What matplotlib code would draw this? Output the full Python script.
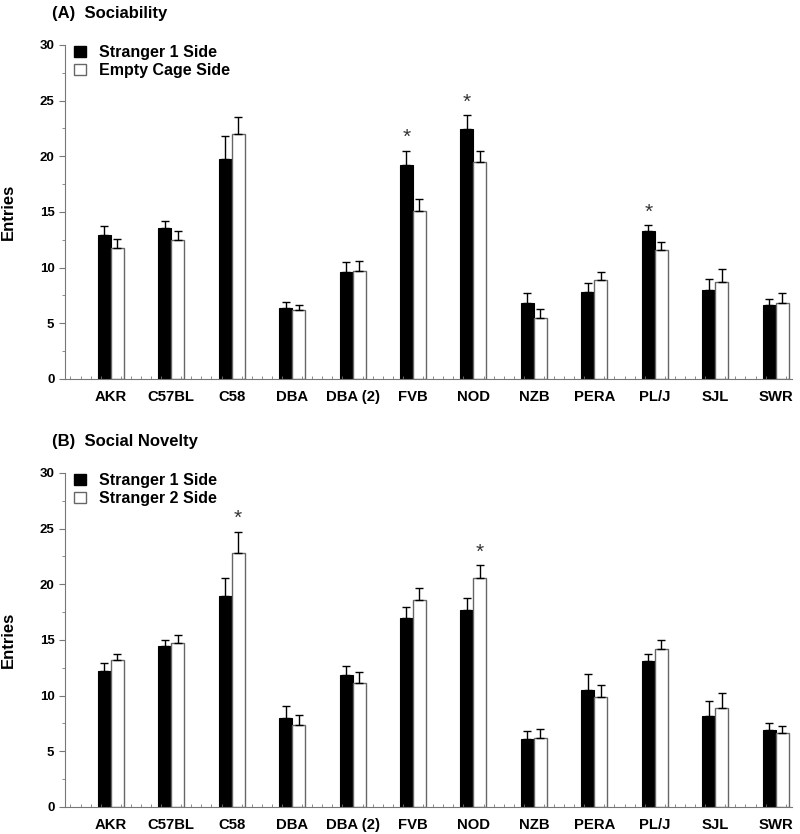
import numpy as np
import matplotlib
matplotlib.use('Agg')
import matplotlib.pyplot as plt
from matplotlib.patches import Patch
from matplotlib.ticker import MultipleLocator

plt.rcParams['font.family'] = ['Liberation Sans', 'DejaVu Sans']
plt.rcParams['font.weight'] = 'bold'

strains = ['AKR', 'C57BL', 'C58', 'DBA', 'DBA (2)', 'FVB', 'NOD', 'NZB', 'PERA', 'PL/J', 'SJL', 'SWR']

# (A) sociability: entries, mean and SEM
soc_s1 = [12.9, 13.55, 19.77, 6.34, 9.63, 19.23, 22.41, 6.79, 7.81, 13.31, 8.02, 6.61]
soc_s1_err = [0.87, 0.66, 2.04, 0.57, 0.90, 1.29, 1.28, 0.90, 0.83, 0.51, 0.98, 0.57]
soc_empty = [11.76, 12.50, 22.02, 6.16, 9.69, 15.08, 19.47, 5.50, 8.91, 11.61, 8.73, 6.82]
soc_empty_err = [0.77, 0.78, 1.49, 0.51, 0.90, 1.10, 1.05, 0.81, 0.69, 0.68, 1.11, 0.90]
soc_star = ['FVB', 'NOD', 'PL/J']  # stranger 1 side

# (B) social novelty
nov_s1 = [12.25, 14.49, 18.97, 8.01, 11.86, 16.97, 17.69, 6.07, 10.52, 13.12, 8.13, 6.90]
nov_s1_err = [0.69, 0.48, 1.62, 1.04, 0.81, 0.99, 1.04, 0.77, 1.43, 0.59, 1.40, 0.60]
nov_s2 = [13.18, 14.73, 22.77, 7.38, 11.11, 18.58, 20.59, 6.21, 9.89, 14.19, 8.87, 6.60]
nov_s2_err = [0.59, 0.72, 1.97, 0.90, 0.99, 1.11, 1.10, 0.78, 1.05, 0.81, 1.38, 0.66]
nov_star = ['C58', 'NOD']  # stranger 2 side

x = np.arange(len(strains))
w = 0.215
edge = '#666666'


def panel(ax, a, a_err, b, b_err, lab_b, stars, star_on_a, title):
    ax.bar(x - w / 2, a, w, color='black', edgecolor='black', linewidth=0.8)
    ax.bar(x + w / 2, b, w, color='white', edgecolor=edge, linewidth=1.0)
    ax.errorbar(x - w / 2, a, yerr=[np.zeros(len(a)), a_err], fmt='none',
                ecolor='black', elinewidth=1, capsize=3, capthick=1)
    ax.errorbar(x + w / 2, b, yerr=[np.zeros(len(b)), b_err], fmt='none',
                ecolor='black', elinewidth=1, capsize=3, capthick=1)
    for s in stars:
        i = strains.index(s)
        if star_on_a:
            xs, ys = x[i] - w / 2, a[i] + a_err[i] + 1.15
        else:
            xs, ys = x[i] + w / 2, b[i] + b_err[i] + 1.15
        ax.text(xs, ys, '*', ha='center', va='center', fontsize=15, color='#333333',
                fontweight='normal')

    ax.set_xlim(-0.76, 11.27)
    ax.set_ylim(0, 30)
    ax.set_xticks(x)
    ax.set_xticklabels(strains, fontsize=10.7, fontweight='bold')
    ax.tick_params(axis='x', which='major', length=0, pad=8)
    ax.xaxis.set_minor_locator(MultipleLocator(1 / 6))
    ax.tick_params(axis='x', which='minor', direction='in', length=2, color='#777777')
    ax.set_yticks(range(0, 31, 5))
    ax.yaxis.set_minor_locator(MultipleLocator(2.5))
    ax.tick_params(axis='y', which='major', direction='out', length=4, color='#777777',
                   labelsize=9.5)
    ax.tick_params(axis='y', which='minor', direction='out', length=2, color='#777777')
    for t in ax.get_yticklabels():
        t.set_fontweight('bold')
    ax.spines['top'].set_visible(False)
    ax.spines['right'].set_visible(False)
    ax.spines['left'].set_color('#777777')
    ax.spines['bottom'].set_color('#777777')
    ax.set_ylabel('Entries', fontsize=12, fontweight='bold', labelpad=17)

    handles = [Patch(facecolor='black', edgecolor='black', label='Stranger 1 Side'),
               Patch(facecolor='white', edgecolor=edge, label=lab_b)]
    ax.legend(handles=handles, loc='upper left', bbox_to_anchor=(0.012, 1.0),
              frameon=False, handlelength=0.75, handleheight=0.75,
              handletextpad=0.85, borderaxespad=0, borderpad=0, labelspacing=0.2,
              prop={'weight': 'bold', 'size': 11.5})
    ax.text(-0.018, 1.095, title, transform=ax.transAxes, fontsize=12,
            fontweight='bold', ha='left', va='center')


fig = plt.figure(figsize=(8, 8.34), dpi=100)
ax1 = fig.add_axes([0.081, 0.5456, 0.909, 0.4005])
ax2 = fig.add_axes([0.081, 0.0324, 0.909, 0.4005])

panel(ax1, soc_s1, soc_s1_err, soc_empty, soc_empty_err, 'Empty Cage Side',
      soc_star, True, '(A)  Sociability')
panel(ax2, nov_s1, nov_s1_err, nov_s2, nov_s2_err, 'Stranger 2 Side',
      nov_star, False, '(B)  Social Novelty')

fig.savefig('out.png', dpi=100)
